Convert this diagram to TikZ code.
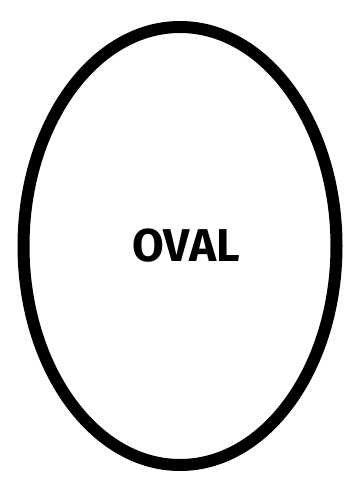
\documentclass[tikz,border=0pt]{standalone}
\usepackage{fontspec}
\setmainfont{Fira Sans}
\usetikzlibrary{shapes.geometric}

\begin{document}
\begin{tikzpicture}[
    x=1pt,y=1pt,
    ovalshape/.style={
        ellipse,
        draw=black,
        line width=12pt,
        minimum width=313pt,
        minimum height=438pt,
        inner sep=0pt
      },
    ovallabel/.style={
        font=\fontsize{46}{50}\selectfont\bfseries,
        inner sep=0pt
      }
    ]

    \useasboundingbox (0,0) rectangle (357,479);
    \node[ovalshape] (oval) at (180,233) {};
    \node[ovallabel] (label) at (186,233) {OVAL};

  \end{tikzpicture}
\end{document}
